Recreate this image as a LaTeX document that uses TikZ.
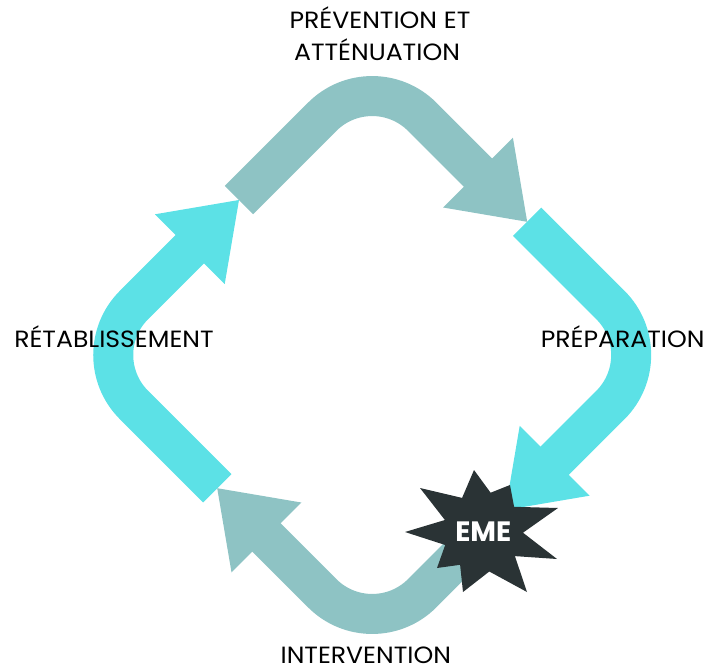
\documentclass[tikz,border=0pt]{standalone}
\usepackage{fontspec}
\setmainfont{Poppins}
\newfontfamily\phasefont{Poppins}[FakeStretch=1.07]
\definecolor{sage}{HTML}{8EC3C4}
\definecolor{aqua}{HTML}{5CE1E6}
\definecolor{burst}{HTML}{2A3335}
\tikzset{
  band/.style={line width=40pt, rounded corners=70.6pt, line cap=butt},
  phase/.style={font=\phasefont\fontsize{23.5}{28}\selectfont, text=black, anchor=base, inner sep=0pt},
  emetext/.style={font=\fontsize{28}{32}\selectfont\bfseries, text=white, anchor=base, inner sep=0pt}
}
\begin{document}
\begin{tikzpicture}[x=1pt,y=-1pt]
\useasboundingbox (0,0) rectangle (713,670);
\begin{scope}[shift={(372.2,355)}]
  % top arrow (prevention)
  \draw[band, draw=sage] (-133.3,-154.9) -- (0,-288.2) -- (108.8,-179.4);
  \fill[sage] (140.7,-217.3) -- (155,-133.2) -- (70.9,-147.5) -- cycle;
  % right arrow (preparation)
  \draw[band, draw=aqua] (154.9,-133.3) -- (288.2,0) -- (179.4,108.8);
  \fill[aqua] (217.3,140.7) -- (133.2,155) -- (147.5,70.9) -- cycle;
  % bottom arrow (intervention)
  \draw[band, draw=sage] (133.3,154.9) -- (0,288.2) -- (-108.8,179.4);
  \fill[sage] (-140.7,217.3) -- (-155,133.2) -- (-70.9,147.5) -- cycle;
  % left arrow (retablissement)
  \draw[band, draw=aqua] (-154.9,133.3) -- (-288.2,0) -- (-179.4,-108.8);
  \fill[aqua] (-217.3,-140.7) -- (-133.2,-155) -- (-147.5,-70.9) -- cycle;
\end{scope}
% burst
\fill[burst] (474,470) -- (490.6,492.7) -- (510,485) -- (514.1,506.8) -- (558,508) -- (523,532.7)
  -- (557,559) -- (514.9,556.1) -- (527,592) -- (489.3,571.5) -- (463,592) -- (460.1,564.8)
  -- (437,568) -- (445.2,545) -- (405,532) -- (444.9,520) -- (420,488) -- (462.1,497.9) -- cycle;
\node[emetext] (eme) at (483.3,541.7) {EME};
% labels
\node[phase] (prev) at (380,28.3) {PRÉVENTION ET};
\node[phase] (att) at (377,60.7) {ATTÉNUATION};
\node[phase] (prep) at (622.7,347.3) {PRÉPARATION};
\node[phase] (inter) at (365.8,663) {INTERVENTION};
\node[phase] (retab) at (114,347.3) {RÉTABLISSEMENT};
\end{tikzpicture}
\end{document}
